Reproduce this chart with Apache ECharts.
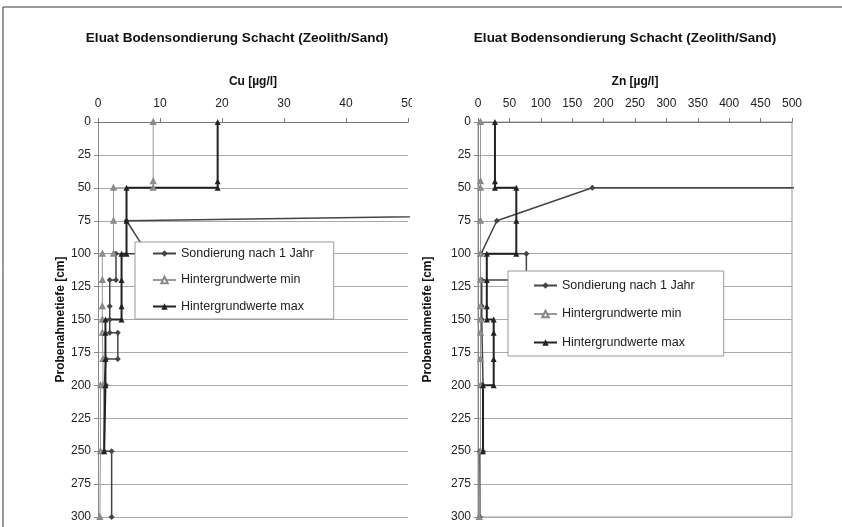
<!DOCTYPE html>
<html>
<head>
<meta charset="utf-8">
<script src="https://cdn.jsdelivr.net/npm/echarts@6/dist/echarts.min.js"></script>
<style>
  html, body { margin: 0; padding: 0; background: #fff; }
  #main { width: 842px; height: 527px; }
</style>
</head>
<body>
<div id="main"></div>
<script>
// Tiefen in cm, Werte in µg/l
var seriesNames = ['Sondierung nach 1 Jahr', 'Hintergrundwerte min', 'Hintergrundwerte max'];
var depthTicks = [0, 25, 50, 75, 100, 125, 150, 175, 200, 225, 250, 275, 300];

// Cu
var cuSondDepth = [300, 250, 250, 200, 200, 180, 180, 160, 160, 150, 140, 120, 120, 100, 100, 75, 50];
var cuSondValue = [2.2, 2.2, 1.0, 1.0, 1.3, 1.3, 3.2, 3.2, 1.9, 1.9, 1.9, 1.9, 2.9, 2.9, 8, 4.6, 380];
var cuMinDepth = [0, 45, 50, 50, 75, 100, 100, 120, 140, 150, 160, 180, 200, 200, 250, 300];
var cuMinValue = [8.9, 8.9, 8.9, 2.5, 2.5, 2.5, 0.7, 0.7, 0.7, 0.7, 0.7, 0.8, 0.8, 0.4, 0.4, 0.3];
var cuMaxDepth = [0, 45, 50, 50, 75, 100, 100, 120, 140, 150, 150, 160, 180, 200, 250];
var cuMaxValue = [19.3, 19.3, 19.3, 4.6, 4.6, 4.6, 3.8, 3.8, 3.8, 3.8, 1.2, 1.2, 1.2, 1.2, 1.0];

// Zn
var znSondDepth = [300, 250, 250, 200, 200, 150, 140, 120, 120, 100, 100, 75, 50, 50];
var znSondValue = [3, 3, 8, 8, 6, 6, 6, 6, 77, 77, 5, 30, 182, 2000];
var znMinDepth = [0, 45, 50, 75, 100, 120, 140, 150, 160, 180, 200, 250, 300];
var znMinValue = [4, 4, 4, 4, 4, 4, 4, 4, 4, 4, 4, 4, 2];
var znMaxDepth = [0, 45, 50, 50, 75, 100, 100, 120, 140, 150, 150, 160, 180, 200, 200, 250];
var znMaxValue = [27, 27, 27, 61, 61, 61, 14, 14, 14, 14, 25, 25, 25, 25, 8, 8];

function zip(values, depths) {
    return values.map(function (v, i) { return [v, depths[i]]; });
}

var font = 'Liberation Sans, Arial, sans-serif';
var myChart = echarts.init(document.getElementById('main'));

function xAxis(idx, name, max, interval) {
    return {
        type: 'value', gridIndex: idx, position: 'top', min: 0, max: max, interval: interval,
        name: name, nameLocation: 'middle', nameGap: 34,
        nameTextStyle: { fontFamily: font, fontSize: 12, fontWeight: 'bold', color: '#111' },
        axisLine: { show: true, lineStyle: { color: '#777' } },
        axisTick: { show: true, inside: false, length: 4, lineStyle: { color: '#777' } },
        axisLabel: { margin: 12, fontFamily: font, fontSize: 12, color: '#222' },
        splitLine: { show: false }
    };
}

function yAxis(idx, nameGap) {
    return {
        type: 'value', gridIndex: idx, inverse: true, min: 0, max: 300, interval: 25,
        name: 'Probenahmetiefe [cm]', nameLocation: 'middle', nameGap: nameGap, nameRotate: 90,
        nameTextStyle: { fontFamily: font, fontSize: 12, fontWeight: 'bold', color: '#111' },
        axisLine: { show: true, lineStyle: { color: '#888' } },
        axisTick: { show: true, length: 4, lineStyle: { color: '#888' } },
        axisLabel: { margin: 7, fontFamily: font, fontSize: 12, color: '#222' },
        splitLine: { show: true, lineStyle: { color: '#aaa', width: 1 } }
    };
}

function makeSeries(idx, sond, min, max) {
    return [
        { name: seriesNames[0], type: 'line', xAxisIndex: idx, yAxisIndex: idx, data: sond,
          symbol: 'diamond', symbolSize: 6, showAllSymbol: true,
          lineStyle: { color: '#444', width: 1.5 }, itemStyle: { color: '#444' } },
        { name: seriesNames[1], type: 'line', xAxisIndex: idx, yAxisIndex: idx, data: min,
          symbol: 'emptyTriangle', symbolSize: 4, showAllSymbol: true,
          lineStyle: { color: '#999', width: 1 }, itemStyle: { color: '#888', borderWidth: 1 } },
        { name: seriesNames[2], type: 'line', xAxisIndex: idx, yAxisIndex: idx, data: max,
          symbol: 'triangle', symbolSize: 6, showAllSymbol: true,
          lineStyle: { color: '#222', width: 2 }, itemStyle: { color: '#222' } }
    ];
}

function legend(left, top, gap, padding) {
    return {
        data: seriesNames, orient: 'vertical', left: left, top: top,
        itemWidth: 23, itemHeight: 8, itemGap: gap,
        padding: padding,
        backgroundColor: '#fff', borderColor: '#999', borderWidth: 1,
        textStyle: { fontFamily: font, fontSize: 12.5, color: '#222' },
        selectedMode: false
    };
}

myChart.setOption({
    animation: false,
    backgroundColor: '#fff',
    title: [
        { text: 'Eluat Bodensondierung Schacht (Zeolith/Sand)', left: 232, top: 26, textAlign: 'center',
          textStyle: { fontFamily: font, fontSize: 13.5, fontWeight: 'bold', color: '#111' } },
        { text: 'Eluat Bodensondierung Schacht (Zeolith/Sand)', left: 620, top: 26, textAlign: 'center',
          textStyle: { fontFamily: font, fontSize: 13.5, fontWeight: 'bold', color: '#111' } }
    ],
    grid: [
        { left: 98, top: 122, width: 310, height: 395, show: false },
        { left: 478, top: 122, width: 314, height: 395, show: true, borderColor: '#999', borderWidth: 1, backgroundColor: 'transparent' }
    ],
    xAxis: [xAxis(0, 'Cu [µg/l]', 50, 10), xAxis(1, 'Zn [µg/l]', 500, 50)],
    yAxis: [yAxis(0, 30), yAxis(1, 44)],
    legend: [legend(135, 242, 13.5, [5, 20, 6, 17]), legend(508, 271, 15.5, [8, 29, 7, 25])],
    series: makeSeries(0, zip(cuSondValue, cuSondDepth), zip(cuMinValue, cuMinDepth), zip(cuMaxValue, cuMaxDepth))
        .concat(makeSeries(1, zip(znSondValue, znSondDepth), zip(znMinValue, znMinDepth), zip(znMaxValue, znMaxDepth))),
    graphic: [
        { type: 'rect', z: 100, shape: { x: 412, y: 94, width: 10, height: 18 }, style: { fill: '#fff' } },
        { type: 'rect', z: 100, shape: { x: 3, y: 7, width: 860, height: 540 }, style: { fill: 'none', stroke: '#333', lineWidth: 1 } }
    ]
});
</script>
</body>
</html>
